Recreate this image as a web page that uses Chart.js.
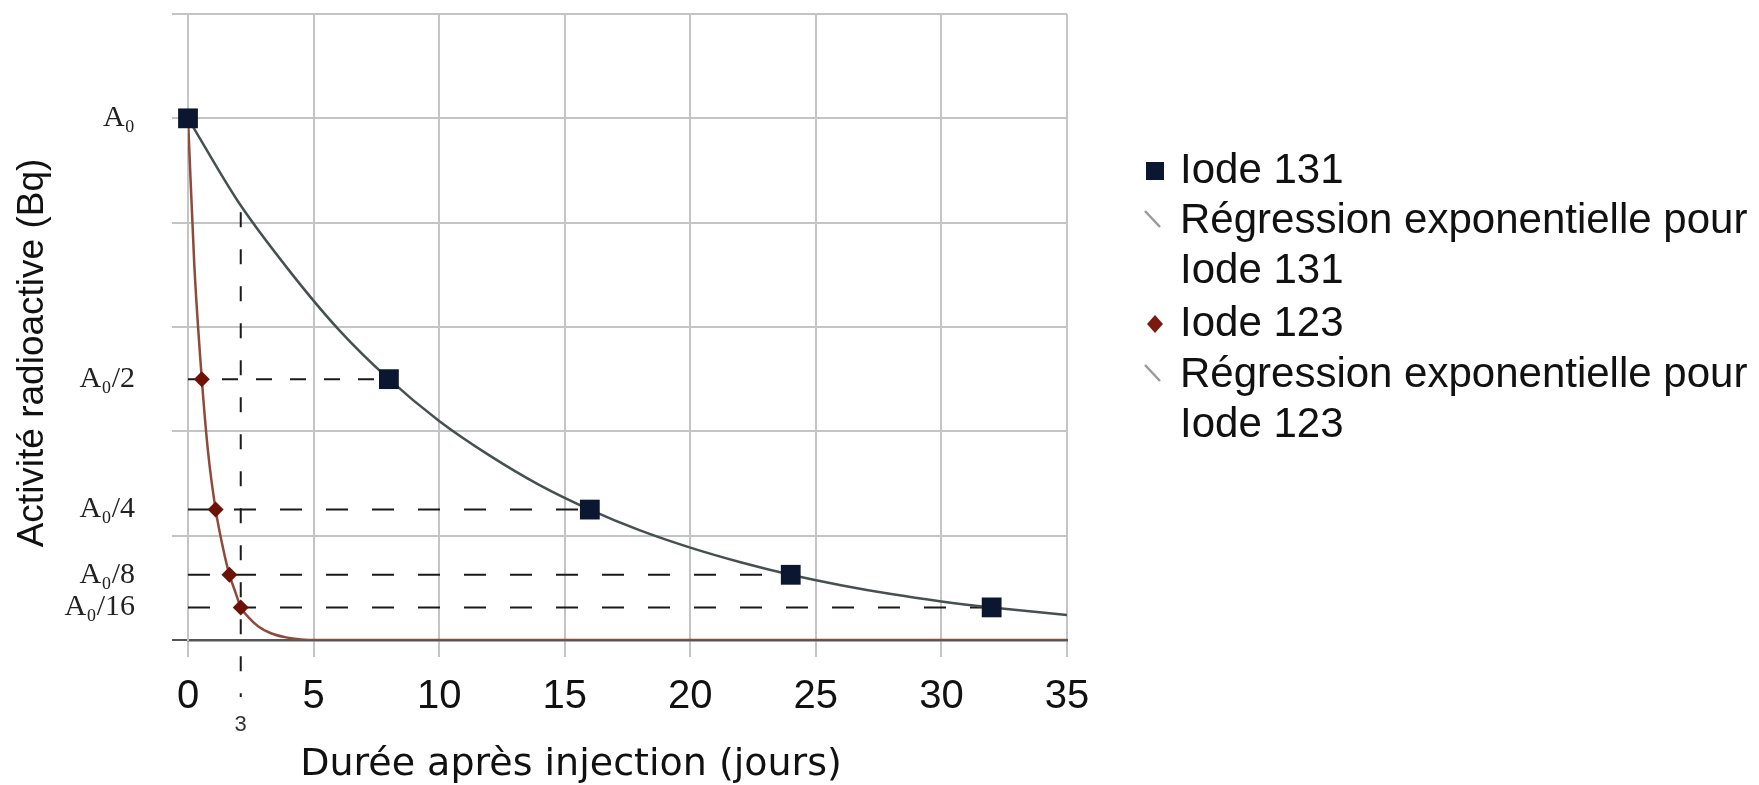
<!DOCTYPE html>
<html lang="fr">
<head>
<meta charset="utf-8">
<title>Activité radioactive - Iode 131 / Iode 123</title>
<script src="https://cdn.jsdelivr.net/npm/chart.js@4.4.1/dist/chart.umd.min.js"></script>
<style>
    html, body { margin: 0; padding: 0; background: #fff; }
    #chart { display: block; }
</style>
</head>
<body>
<canvas id="chart" width="1759" height="785"></canvas>
<script>
const iode131X = [0, 8, 16, 24, 32];
const iode131Y = [100, 50, 25, 12.5, 6.25];
const iode123X = [0, 0.55, 1.1, 1.65, 2.1];
const iode123Y = [100, 50, 25, 12.5, 6.25];

// Courbes de regression
const reg131X = [0, 2, 4, 6, 8, 10, 12, 14, 16, 18, 20, 22, 24, 26, 28, 30, 32, 35];
const reg131Y = [100, 84, 71, 59.5, 50, 42, 35.4, 29.7, 25, 21, 17.7, 14.9, 12.5, 10.5, 8.8, 7.4, 6.25, 4.8];
const reg123X = [0, 0.25, 0.55, 0.8, 1.1, 1.4, 1.65, 1.9, 2.1, 2.4, 2.8, 3.3, 3.9, 4.5, 5.1, 35];
const reg123Y = [100, 72, 50, 36, 25, 17.5, 12.5, 9, 6.25, 4.4, 2.6, 1.3, 0.5, 0.12, 0, 0];

// Axe vertical : lignes de grille et graduations nommees
const yGridValues = [0, 20, 40, 60, 80, 100, 120];
const yTickValues = [100, 50, 25, 12.5, 6.25];
const yTickLabels = ['A₀', 'A₀/2', 'A₀/4', 'A₀/8', 'A₀/16'];

// Repere vertical en pointilles (t = 3 sur le schema)
const markerX = 2.1;
const markerTop = 82;
const markerLabel = '3';

const seriesLabels = ['Iode 131', 'Régression exponentielle pour Iode 131', 'Iode 123', 'Régression exponentielle pour Iode 123'];

document.addEventListener('DOMContentLoaded', () => {
    const ctx = document.getElementById('chart').getContext('2d');

    const toPoints = (xs, ys) => xs.map((x, i) => ({ x: x, y: ys[i] }));

    // Pointilles horizontaux de A0/2 ... A0/16 jusqu'au point de l'iode 131
    const dashedSets = iode131Y.slice(1).map((level, i) => ({
        label: 'guide',
        data: [{ x: 0, y: level }, { x: iode131X[i + 1], y: level }],
        borderColor: '#1a1a1a',
        borderWidth: 2,
        borderDash: i === 0 ? [16, 18] : [22, 24],
        pointRadius: 0,
        fill: false
    }));

    // Titres d'axes, legende et repere t = 3
    const decorations = {
        id: 'decorations',
        beforeDatasetsDraw(chart) {
            const c = chart.ctx;
            const xs = chart.scales.x;
            const ys = chart.scales.y;
            const px = xs.getPixelForValue(markerX);
            c.save();
            c.strokeStyle = '#1a1a1a';
            c.lineWidth = 2;
            c.setLineDash([15, 22]);
            c.beginPath();
            c.moveTo(px, ys.getPixelForValue(markerTop));
            c.lineTo(px, chart.chartArea.bottom + 57);
            c.stroke();
            c.restore();
        },
        afterDraw(chart) {
            const c = chart.ctx;
            const px = chart.scales.x.getPixelForValue(markerX);
            c.save();

            c.fillStyle = '#333';
            c.font = '22px "Liberation Sans", Arial, sans-serif';
            c.textAlign = 'center';
            c.textBaseline = 'middle';
            c.fillText(markerLabel, px, 725);

            // Titre axe x
            c.fillStyle = '#111';
            c.font = '38px "DejaVu Sans", sans-serif';
            c.textAlign = 'center';
            c.textBaseline = 'alphabetic';
            c.fillText('Durée après injection (jours)', 571, 775);

            // Titre axe y
            c.save();
            c.translate(33, 353);
            c.rotate(-Math.PI / 2);
            c.font = '37px "Liberation Sans", Arial, sans-serif';
            c.textBaseline = 'middle';
            c.fillText('Activité radioactive (Bq)', 0, 0);
            c.restore();

            // Legende
            const textX = 1180;
            c.font = '42px "Liberation Sans", Arial, sans-serif';
            c.textAlign = 'left';
            c.textBaseline = 'middle';
            c.fillStyle = '#111';
            c.fillText('Iode 131', textX, 171);
            c.fillText('Régression exponentielle pour', textX, 221);
            c.fillText('Iode 131', textX, 271);
            c.fillText('Iode 123', textX, 324);
            c.fillText('Régression exponentielle pour', textX, 375);
            c.fillText('Iode 123', textX, 425);

            c.fillStyle = '#0b1730';
            c.fillRect(1146, 162, 18, 18);

            c.fillStyle = '#7a1a10';
            c.beginPath();
            c.moveTo(1155, 315);
            c.lineTo(1163, 324);
            c.lineTo(1155, 333);
            c.lineTo(1147, 324);
            c.closePath();
            c.fill();

            c.strokeStyle = '#9a9a9a';
            c.lineWidth = 2.5;
            [211, 365].forEach(y0 => {
                c.beginPath();
                c.moveTo(1145, y0);
                c.lineTo(1160, y0 + 16);
                c.stroke();
            });
            c.restore();
        }
    };

    new Chart(ctx, {
        type: 'line',
        data: {
            datasets: [
                {
                    label: seriesLabels[0],
                    data: toPoints(iode131X, iode131Y),
                    showLine: false,
                    clip: false,
                    pointStyle: 'rect',
                    pointRadius: 14,
                    pointBackgroundColor: '#0b1730',
                    pointBorderColor: '#0b1730',
                    pointBorderWidth: 0
                },
                {
                    label: seriesLabels[2],
                    data: toPoints(iode123X, iode123Y),
                    showLine: false,
                    clip: false,
                    pointStyle: 'rectRot',
                    pointRadius: 8,
                    pointBackgroundColor: '#6e1208',
                    pointBorderColor: '#6e1208',
                    pointBorderWidth: 0
                },
                {
                    label: seriesLabels[1],
                    data: toPoints(reg131X, reg131Y),
                    borderColor: '#465050',
                    borderWidth: 2.5,
                    pointRadius: 0,
                    cubicInterpolationMode: 'monotone',
                    fill: false
                },
                {
                    label: seriesLabels[3],
                    data: toPoints(reg123X, reg123Y),
                    borderColor: '#8f4a3a',
                    borderWidth: 2.5,
                    pointRadius: 0,
                    cubicInterpolationMode: 'monotone',
                    fill: false
                },
                ...dashedSets
            ]
        },
        options: {
            responsive: false,
            animation: false,
            devicePixelRatio: 1,
            layout: {
                padding: { left: 0, right: 692, top: 11, bottom: 0 }
            },
            plugins: {
                legend: { display: false },
                tooltip: { enabled: false }
            },
            scales: {
                x: {
                    type: 'linear',
                    min: 0,
                    max: 35,
                    afterFit: (scale) => { scale.height = 145; },
                    ticks: {
                        stepSize: 5,
                        padding: 16,
                        color: '#111',
                        font: { family: '"Liberation Sans", Arial, sans-serif', size: 40 }
                    },
                    grid: {
                        color: '#c4c4c4',
                        lineWidth: 2,
                        tickLength: 17
                    },
                    border: { color: '#555', width: 2.5 }
                },
                y: {
                    type: 'linear',
                    min: 0,
                    max: 120,
                    afterFit: (scale) => {
                        scale.width = 188;
                        scale.paddingTop = 0;
                        scale.paddingBottom = 0;
                    },
                    afterBuildTicks: (scale) => {
                        const vals = [...new Set(yGridValues.concat(yTickValues))].sort((a, b) => a - b);
                        scale.ticks = vals.map(v => ({ value: v }));
                    },
                    ticks: {
                        autoSkip: false,
                        padding: 37,
                        color: '#222',
                        font: { family: '"Liberation Serif", "Times New Roman", serif', size: 30 },
                        callback: (value) => {
                            const i = yTickValues.indexOf(value);
                            return i >= 0 ? yTickLabels[i] : '';
                        }
                    },
                    grid: {
                        lineWidth: 2,
                        tickLength: 16,
                        color: (c) => {
                            const v = c.tick ? c.tick.value : null;
                            if (v === 0) return '#555';
                            return yGridValues.includes(v) ? '#c4c4c4' : 'rgba(0,0,0,0)';
                        }
                    },
                    border: { color: '#c4c4c4', width: 2 }
                }
            }
        },
        plugins: [decorations]
    });
});
</script>
</body>
</html>
